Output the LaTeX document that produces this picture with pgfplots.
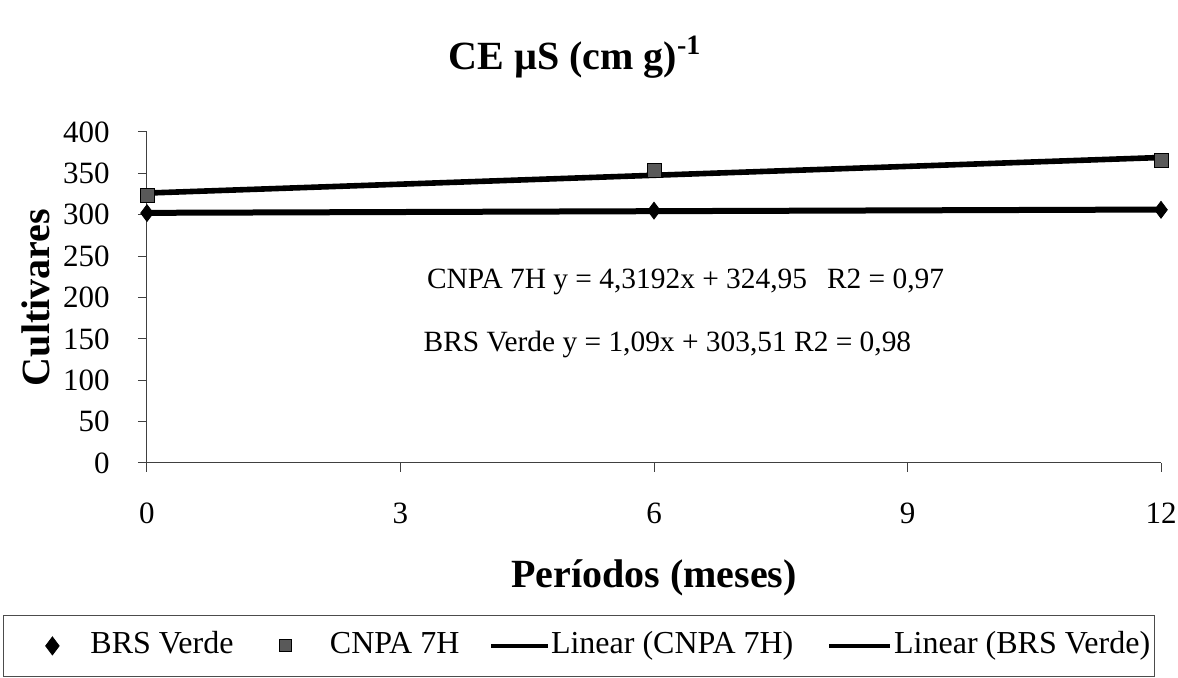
\documentclass[border=0pt]{standalone}
\usepackage{pgfplots}
\pgfplotsset{compat=1.18}
\usepackage{fontspec}
\setmainfont{Liberation Serif}

\pgfplotsset{
  markimgA/.style={legend image code/.code={\path[draw=none, fill=none] (-22.5pt,0pt) -- (19pt,0pt);
    \draw[##1, /tikz/only marks, mark size=4.5pt] plot coordinates {(0pt,0pt)};}},
  markimgB/.style={legend image code/.code={\path[draw=none, fill=none] (-4pt,0pt) -- (22.5pt,0pt);
    \draw[##1, /tikz/only marks, mark size=3pt] plot coordinates {(0pt,0pt)};}},
  lineimg/.style={legend image code/.code={\draw[##1] (0pt,0pt) -- (#1,0pt);}},
}

\begin{document}
\begin{tikzpicture}
\begin{axis}[
  scale only axis, width=507pt, height=165.5pt,
  xmin=0, xmax=12, ymin=0, ymax=400,
  xtick={0,3,6,9,12}, ytick={0,50,...,400},
  axis x line*=bottom, axis y line*=left,
  axis line style={-, black!75, line width=0.5pt},
  tick style={black!75, line width=0.5pt},
  tick align=outside, major tick length=4.5pt,
  /pgf/number format/assume math mode=true,
  ticklabel style={font=\fontsize{15.5}{15.5}\selectfont},
  xticklabel style={anchor=base, inner sep=0pt, yshift=-26pt},
  yticklabel style={anchor=east, inner sep=0pt, xshift=-14pt},
  xlabel={Períodos (meses)}, ylabel={Cultivares},
  label style={font=\fontsize{20}{20}\selectfont\bfseries},
  xlabel style={at={(axis description cs:0.5,-0.3474)}, anchor=center},
  ylabel style={at={(axis description cs:-0.1095,0.5)}, anchor=center},
  title={CE µS (cm g)\textsuperscript{-1}},
  title style={at={(axis description cs:0.422,1.19)}, anchor=center,
    font=\fontsize{20}{20}\selectfont\bfseries},
  clip=false,
  legend columns=4,
  legend style={draw=black!70, line width=0.4pt,
    at={(axis description cs:-0.142,-0.4592)}, anchor=north west,
    inner xsep=2pt, inner ysep=8pt,
    font=\fontsize{16}{16}\selectfont,
    nodes={inner sep=0pt, text height=11pt, text depth=3.5pt},
    /tikz/column 2/.style={column sep=21.7pt},
    /tikz/column 4/.style={column sep=14.8pt},
    /tikz/column 5/.style={column sep=0.5pt},
    /tikz/column 6/.style={column sep=16.9pt},
    /tikz/column 7/.style={column sep=1pt}},
]
% trend lines (drawn first so the marks sit on top)
\addplot[black, line width=2.8pt, forget plot] coordinates {(0,326.2) (12,369.2)};
\addplot[black, line width=3pt, forget plot] coordinates {(0,302.3) (12,306.3)};

% measured points
\addplot[only marks, mark=diamond*, mark size=4.2pt, black, markimgA]
  coordinates {(0,302) (6,305) (12,306)};
\addlegendentry{BRS Verde}
\addplot[only marks, mark=square*, mark size=3.5pt, draw=black, fill=black!65, markimgB]
  coordinates {(0,323) (6,354) (12,366)};
\addlegendentry{CNPA 7H}

\addlegendimage{black, line width=2pt, lineimg=28.5pt}
\addlegendentry{Linear (CNPA 7H)}
\addlegendimage{black, line width=2pt, lineimg=30.5pt}
\addlegendentry{Linear (BRS Verde)}

\node[anchor=west, inner sep=0pt, font=\fontsize{14.7}{14.7}\selectfont]
  at (axis cs:3.31,219) {CNPA 7H y = 4,3192x + 324,95\hspace{10pt}R2 = 0,97};
\node[anchor=west, inner sep=0pt, font=\fontsize{14.7}{14.7}\selectfont]
  at (axis cs:3.27,143) {BRS Verde y = 1,09x + 303,51 R2 = 0,98};
\end{axis}
\pgfresetboundingbox
\path[use as bounding box] (-73.5pt,-107.5pt) rectangle (515.5pt,231.5pt);
\end{tikzpicture}
\end{document}
